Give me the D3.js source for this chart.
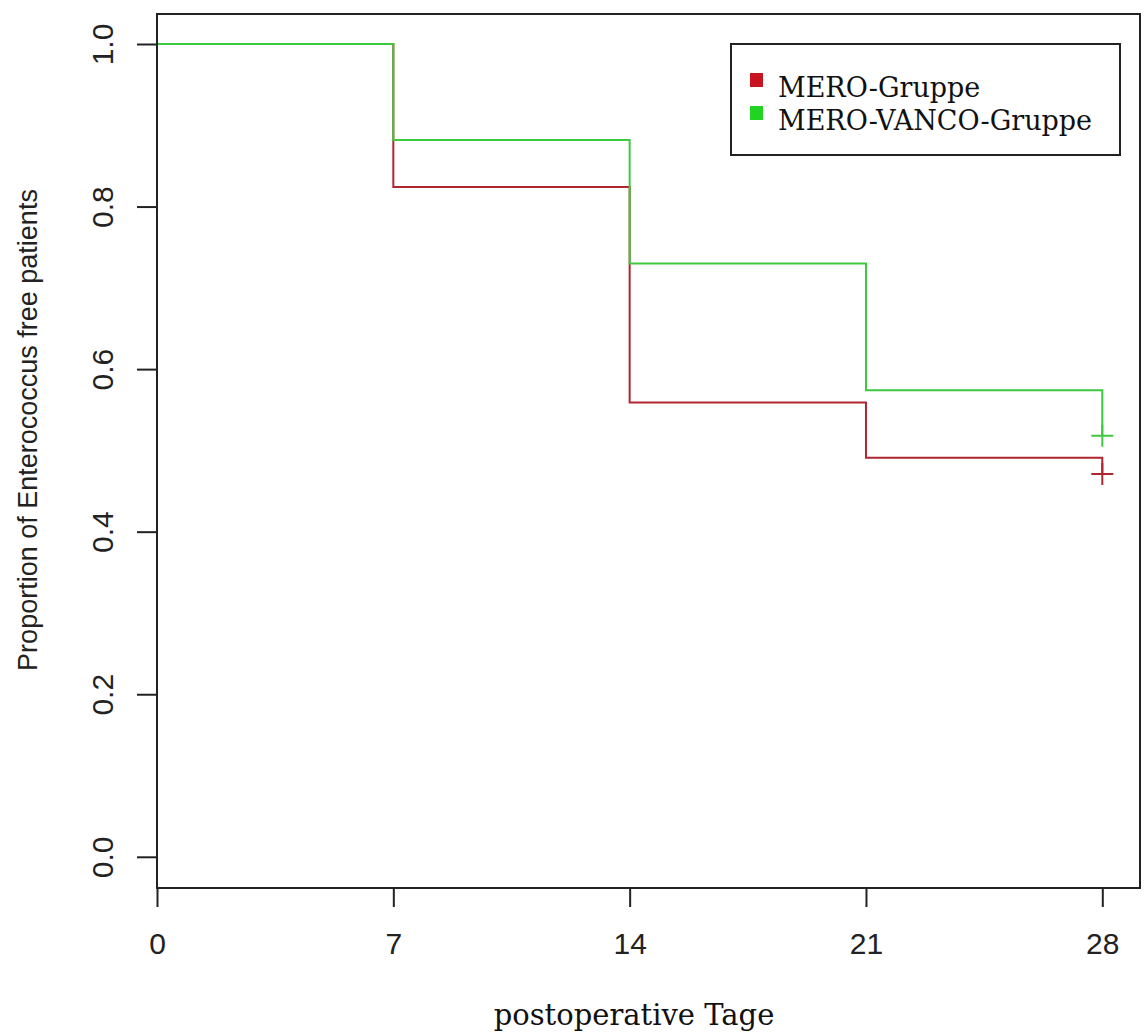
<!DOCTYPE html>
<html>
<head>
<meta charset="utf-8">
<script src="https://cdn.jsdelivr.net/npm/d3@7/dist/d3.min.js"></script>
<style>
  body { margin: 0; background: #fff; }
  svg { display: block; }
</style>
</head>
<body>
<svg id="svg" width="1144" height="1035"></svg>
<script>
// survival data
var days = [0, 7, 14, 21, 28];
var mero = [1.0, 0.824, 0.559, 0.491, 0.471];
var meroVanco = [1.0, 0.882, 0.730, 0.574, 0.518];
var groupNames = ["MERO-Gruppe", "MERO-VANCO-Gruppe"];
var colorList = ["#b02630", "#3ec83e"];
var xTicks = [0, 7, 14, 21, 28];
var yTicks = [0, 0.2, 0.4, 0.6, 0.8, 1.0];

var svg = d3.select("#svg");
var box = {left: 157, right: 1140, top: 14, bottom: 888};

var x = d3.scaleLinear().domain([0, 28]).range([157, 1102.3]);
var y = d3.scaleLinear().domain([0, 1]).range([856.8, 44]);

// axes
var xAxis = svg.append("g")
    .attr("transform", "translate(0," + box.bottom + ")")
    .call(d3.axisBottom(x).tickValues(xTicks).tickSize(19).tickFormat(d3.format("d")));
var yAxis = svg.append("g")
    .attr("transform", "translate(" + box.left + ",0)")
    .call(d3.axisLeft(y).tickValues(yTicks).tickSize(20).tickFormat(d3.format(".1f")));

[xAxis, yAxis].forEach(function(a){
    a.select(".domain").remove();
    a.selectAll(".tick line").attr("stroke", "#222").attr("stroke-width", 2);
    a.selectAll("text")
        .style("font-family", "'Liberation Sans', Arial, sans-serif")
        .style("font-size", "30px")
        .attr("fill", "#222");
});
xAxis.selectAll("text").attr("dy", null).attr("y", 66);
yAxis.selectAll("text")
    .attr("x", null).attr("dy", null)
    .attr("text-anchor", "middle")
    .attr("transform", "translate(-44,0) rotate(-90)");

// survival steps
function stepLine(vals){
    var pts = [];
    for (let i = 0; i < days.length; i++){
        if (i > 0) pts.push([days[i], vals[i-1]]);
        pts.push([days[i], vals[i]]);
    }
    return d3.line().x(d => x(d[0])).y(d => y(d[1]))(pts);
}

[mero, meroVanco].forEach(function(vals, k){
    svg.append("path")
        .attr("d", stepLine(vals))
        .attr("fill", "none")
        .attr("stroke", colorList[k])
        .attr("stroke-width", 2);
    // censor mark at end
    var cx = x(days[days.length-1]), cy = y(vals[vals.length-1]);
    svg.append("path")
        .attr("d", "M" + (cx-11) + "," + cy + "H" + (cx+11) + "M" + cx + "," + (cy-11) + "V" + (cy+11))
        .attr("stroke", colorList[k])
        .attr("stroke-width", 2);
});

// frame
svg.append("rect")
    .attr("x", box.left).attr("y", box.top)
    .attr("width", box.right - box.left).attr("height", box.bottom - box.top)
    .attr("fill", "none").attr("stroke", "#222").attr("stroke-width", 2);

// legend
var lg = svg.append("g");
lg.append("rect")
    .attr("x", 731).attr("y", 44).attr("width", 389).attr("height", 111)
    .attr("fill", "none").attr("stroke", "#222").attr("stroke-width", 2);
groupNames.forEach(function(name, k){
    lg.append("rect")
        .attr("x", 750).attr("y", 73 + k*33).attr("width", 13).attr("height", 14)
        .attr("fill", k == 0 ? "#c8141e" : "#22d422");
    lg.append("text")
        .attr("x", 778).attr("y", 97 + k*33)
        .style("font-family", "'DejaVu Serif', serif")
        .style("font-size", "27px")
        .attr("fill", "#111")
        .text(name);
});

// axis titles
svg.append("text")
    .attr("x", 634).attr("y", 1025)
    .attr("text-anchor", "middle")
    .style("font-family", "'DejaVu Serif', serif")
    .style("font-size", "29px")
    .attr("fill", "#111")
    .text("postoperative Tage");

svg.append("text")
    .attr("transform", "translate(37,430) rotate(-90)")
    .attr("text-anchor", "middle")
    .style("font-family", "'Liberation Sans', Arial, sans-serif")
    .style("font-size", "27px")
    .attr("fill", "#222")
    .text("Proportion of Enterococcus free patients");
</script>
</body>
</html>
